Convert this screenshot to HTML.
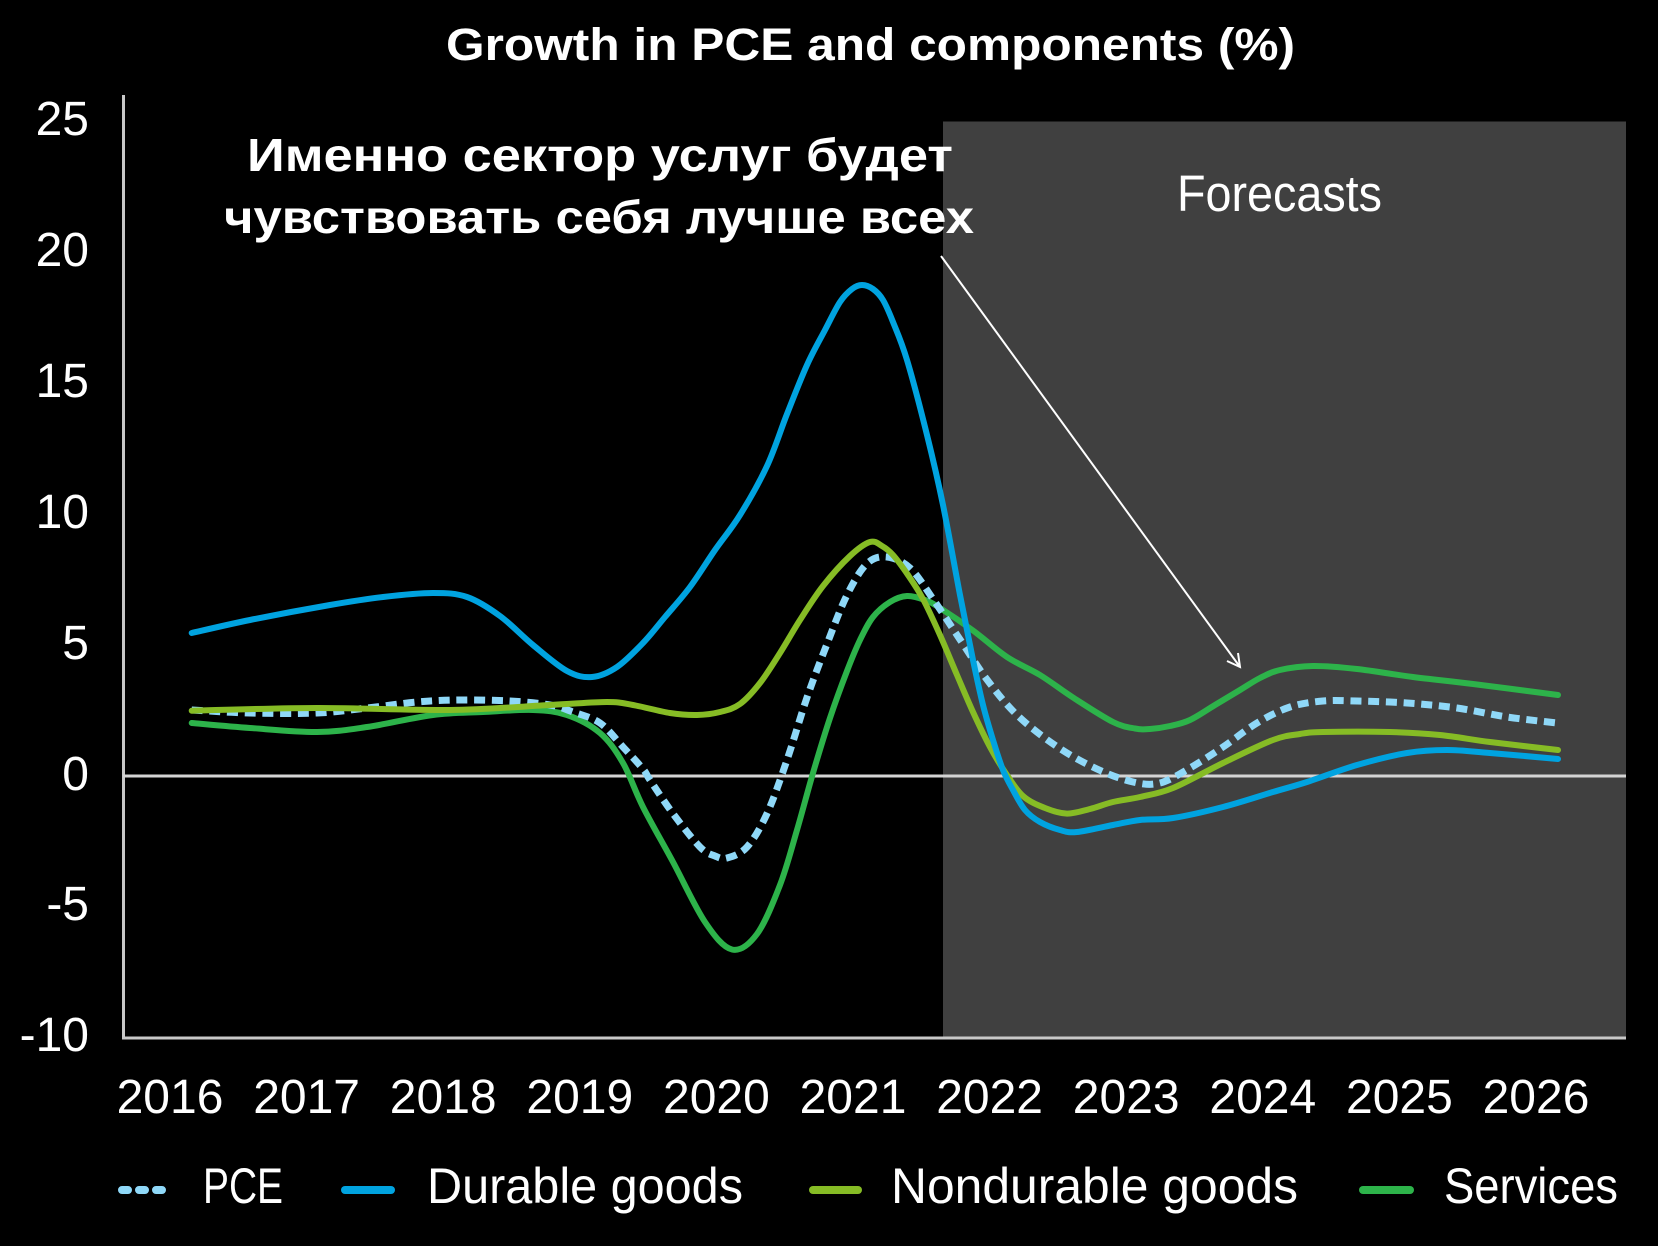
<!DOCTYPE html>
<html><head><meta charset="utf-8"><style>
html,body{margin:0;padding:0;background:#000;}
svg{display:block;}
text{font-family:"Liberation Sans","DejaVu Sans",sans-serif;fill:#fff;}
</style></head><body>
<svg id="chart" width="1658" height="1246" viewBox="0 0 1658 1246" xmlns="http://www.w3.org/2000/svg">
<rect x="0" y="0" width="1658" height="1246" fill="#000"/>
<rect x="943" y="121.5" width="683" height="916.5" fill="#404040"/>
<text x="446" y="60" font-size="45" font-weight="bold" textLength="849" lengthAdjust="spacingAndGlyphs">Growth in PCE and components (%)</text>
<text x="247" y="171" font-size="46" font-weight="bold" textLength="706" lengthAdjust="spacingAndGlyphs">Именно сектор услуг будет</text>
<text x="224" y="233" font-size="46" font-weight="bold" textLength="750" lengthAdjust="spacingAndGlyphs">чувствовать себя лучше всех</text>
<text x="1177" y="211" font-size="51" textLength="205" lengthAdjust="spacingAndGlyphs">Forecasts</text>
<g font-size="48" text-anchor="end">
<text x="89" y="135">25</text>
<text x="89" y="266">20</text>
<text x="89" y="397">15</text>
<text x="89" y="528">10</text>
<text x="89" y="659">5</text>
<text x="89" y="790">0</text>
<text x="89" y="920">-5</text>
<text x="89" y="1051">-10</text>
</g>
<g font-size="48" text-anchor="middle">
<text x="170" y="1113">2016</text>
<text x="306.6" y="1113">2017</text>
<text x="443.2" y="1113">2018</text>
<text x="579.8" y="1113">2019</text>
<text x="716.4" y="1113">2020</text>
<text x="853" y="1113">2021</text>
<text x="989.6" y="1113">2022</text>
<text x="1126.2" y="1113">2023</text>
<text x="1262.8" y="1113">2024</text>
<text x="1399.4" y="1113">2025</text>
<text x="1536" y="1113">2026</text>
</g>
<line x1="123.5" y1="95" x2="123.5" y2="1039" stroke="#c8c8c8" stroke-width="3"/>
<line x1="122" y1="1038" x2="1626" y2="1038" stroke="#c8c8c8" stroke-width="3"/>
<line x1="123" y1="776" x2="1626" y2="776" stroke="#d4d4d4" stroke-width="3"/>
<line x1="941" y1="256" x2="1240" y2="667" stroke="#fff" stroke-width="2"/>
<polyline points="1227,661 1240,667 1238,653" fill="none" stroke="#fff" stroke-width="2"/>
<g fill="none" stroke-linejoin="round" stroke-linecap="round">
<polyline class="sm" stroke="#2db34a" stroke-width="6" points="191.7,723 250,728 317,732 367,727 433,715 483,712 533,710 567,715 600,733 623,763 643,807 673,862 705,922 732,949.5 757,934 780,885 797,830 813,773 830,718 847,671 860,640 873,617 890,602 907,596 925,600 940,608 973,630.5 1007,657 1040,675 1073,697.5 1113,722 1135,728.5 1150,729 1170,726 1190,720 1215,705 1240,690 1260,678 1280,670 1313,666 1357,669 1413,677 1473,684 1558,695"/>
<polyline class="sm" stroke="#8fd8f8" stroke-width="7" stroke-linecap="butt" stroke-dasharray="11 6.7" points="191.7,710 250,713 317,713 367,708 417,702 460,700 510,701 550,705 573,712 600,723 623,747 643,769 650,780 673,813.6 700,847 715,856 727,858 747,847 767,813.6 787,760 807,697.5 827,644 847,595 867,563.6 887,557 910,568 933,599 960,639.5 987,679.6 1017,715 1057,746.6 1097,769 1133,782 1160,783 1190,768 1223,747 1257,723 1290,707 1323,701 1357,701 1407,703 1457,708 1507,717 1557,723"/>
<polyline class="sm" stroke="#86bc25" stroke-width="6" points="191.7,710.7 317,708 450,710 550,705 607,702 633,705 670,713 697,715 720,712 740,704 760,683 780,653 800,620 823,586 850,556 870,542 882,546 893,555 908,575 923,599 940,635 957,675 973,712 990,747 1005,772 1023,796 1045,808 1067,813.6 1090,809 1113,802 1140,797 1173,788 1223,763 1273,740 1300,734 1323,732 1390,732 1440,735 1490,742 1558,750"/>
<polyline class="sm" stroke="#00a3e0" stroke-width="6" points="191.7,633 250,620 330,605 383,597 433,593 467,597 500,616 533,645 567,671 592,677 617,667 643,643 665,617 690,587 715,550 740,515 767,466 787,414 807,365 825,330 840,302 852,289 862,285 873,289 883,300 893,322 907,360 927,435 943,505 960,595 973,660 983,705 993,740 1003,770 1013,790 1025,810 1040,822 1060,830 1077,832 1113,825 1140,820 1173,818 1223,807 1273,792 1307,782 1357,765 1407,753 1447,750 1490,753 1558,759"/>
</g>
<g stroke-linecap="round" stroke-width="8" fill="none">
<line x1="122" y1="1190" x2="162" y2="1190" stroke="#8fd8f8" stroke-dasharray="6 11"/>
<line x1="345" y1="1190" x2="391" y2="1190" stroke="#00a3e0"/>
<line x1="813" y1="1190" x2="858" y2="1190" stroke="#86bc25"/>
<line x1="1363" y1="1190" x2="1410" y2="1190" stroke="#2db34a"/>
</g>
<g font-size="50">
<text x="203" y="1203" textLength="80" lengthAdjust="spacingAndGlyphs">PCE</text>
<text x="427" y="1203" textLength="316" lengthAdjust="spacingAndGlyphs">Durable goods</text>
<text x="891" y="1203" textLength="407" lengthAdjust="spacingAndGlyphs">Nondurable goods</text>
<text x="1444" y="1203" textLength="174" lengthAdjust="spacingAndGlyphs">Services</text>
</g>
</svg>
<script>
(function(){
var NS="http://www.w3.org/2000/svg";
var pls=document.querySelectorAll("polyline.sm");
for(var k=0;k<pls.length;k++){
 var pl=pls[k];
 var raw=pl.getAttribute("points").trim().split(/\s+/);
 var p=[];
 for(var i=0;i<raw.length;i++){var a=raw[i].split(",");p.push([parseFloat(a[0]),parseFloat(a[1])]);}
 var d="M"+p[0][0]+","+p[0][1];
 for(var i=0;i<p.length-1;i++){
  var p0=p[i>0?i-1:i],p1=p[i],p2=p[i+1],p3=p[i+2<p.length?i+2:i+1];
  var c1x=p1[0]+(p2[0]-p0[0])/6,c1y=p1[1]+(p2[1]-p0[1])/6;
  var c2x=p2[0]-(p3[0]-p1[0])/6,c2y=p2[1]-(p3[1]-p1[1])/6;
  d+=" C"+c1x.toFixed(2)+","+c1y.toFixed(2)+" "+c2x.toFixed(2)+","+c2y.toFixed(2)+" "+p2[0]+","+p2[1];
 }
 var path=document.createElementNS(NS,"path");
 for(var j=0;j<pl.attributes.length;j++){var at=pl.attributes[j];if(at.name!=="points"&&at.name!=="class")path.setAttribute(at.name,at.value);}
 path.setAttribute("d",d);
 pl.parentNode.replaceChild(path,pl);
}
})();
</script>
</body></html>
